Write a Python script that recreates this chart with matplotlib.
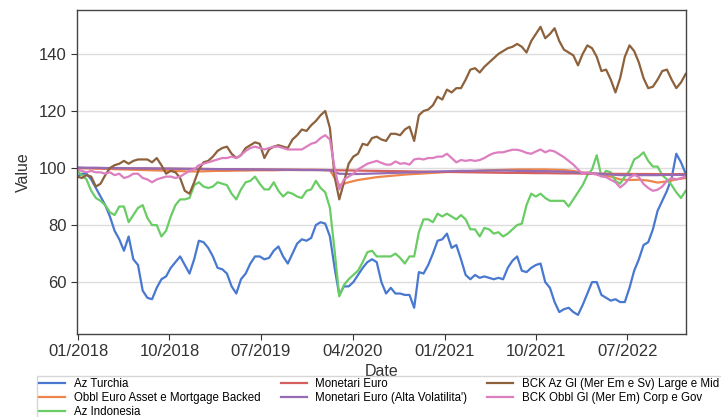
import matplotlib
matplotlib.use('Agg')
import matplotlib.pyplot as plt
import matplotlib.dates as mdates
import pandas as pd

plt.rcParams['font.family'] = ['Liberation Sans', 'DejaVu Sans']

# weekly series sampled every 2 weeks, flat money-market/bond series every 4 weeks
dates_2w = pd.date_range('2017-12-29', periods=131, freq='14D')
dates_4w = pd.date_range('2017-12-29', periods=66, freq='28D')

az_turchia = [
    97, 98, 98, 96, 93, 90, 87, 83, 78, 75, 71, 76, 68, 66, 57, 54.5, 54, 58, 61, 62,
    65, 67, 69, 66, 63, 68, 74.5, 74, 72, 69, 65, 64.5, 63, 58.5, 56, 61, 63, 66.5, 69, 69,
    68, 68.5, 71, 72.5, 69, 66.5, 70, 73.5, 75, 74.5, 75.5, 80, 81, 80.5, 76, 65, 55.5, 58.5, 58.5, 60,
    62.5, 65, 67, 68, 67, 60, 56, 58, 56, 56, 55.5, 55.5, 51, 63.5, 63, 66, 70, 74.5, 75, 77,
    72, 73, 68, 62.5, 61, 62.5, 61.5, 62, 61.5, 61, 61.5, 61, 65, 67.5, 69, 64, 63.5, 65, 66, 66.5,
    60, 58, 53, 49.5, 50.5, 51, 49.5, 48.5, 52, 56, 60, 60, 55.5, 54.5, 53.5, 54, 53, 53, 58, 64,
    68, 73, 74, 78.5, 85, 88.5, 92, 96.5, 105, 102, 98]

az_indonesia = [
    99, 97.5, 96, 92, 89.5, 88.5, 87, 84.5, 83.5, 86.5, 86.5, 81, 83.5, 86, 87, 82.5, 80, 80, 76, 78,
    83, 87, 89, 89, 89.5, 94, 95, 93.5, 93, 93.5, 95, 94.5, 94, 91, 89, 92.5, 95, 95.5, 97, 94.5,
    92.5, 92.5, 95, 92, 90, 91.5, 91, 90, 89.5, 92, 92.5, 95.5, 93, 91.5, 86, 71, 55, 59, 61, 62.5,
    64, 67, 70.5, 71, 69, 69, 69, 69, 70, 68.5, 66.5, 69, 69, 77.5, 82, 82, 81, 84, 83, 84,
    83, 82, 83.5, 82, 78.5, 78.5, 76, 79, 78.5, 77, 77.5, 76, 77, 78.5, 80, 80.5, 87, 91, 90, 91,
    89.5, 88.5, 88.5, 88.5, 88.5, 86.5, 89, 91.5, 94, 97.5, 99.5, 104.5, 97, 99, 98.5, 95.5, 94.5, 97, 99, 103,
    104, 105.5, 102.5, 100.5, 100.5, 97.5, 96, 94, 91.5, 89.5, 92]

bck_az_gl = [
    97, 96.5, 97.5, 97, 93.5, 94.5, 97.5, 100, 101, 101.5, 102.5, 101.5, 102.5, 103, 103, 103, 102, 103.5, 101, 98,
    99, 98.5, 96.5, 92, 91, 95, 99.5, 102, 102.5, 104, 106, 107, 107.5, 105, 103.5, 104.5, 107, 108, 109, 108.5,
    103.5, 106.5, 107.5, 108, 107.5, 107, 110, 111.5, 113.5, 113, 115, 116.5, 118.5, 120, 114, 97, 89, 95, 101.5, 104,
    105, 108.5, 108, 110.5, 111, 110, 109.5, 112, 112, 111.5, 113.5, 114.5, 109.5, 118.5, 120, 120.5, 122, 125, 124, 127.5,
    126.5, 128, 128, 131, 134.5, 135, 133.5, 135.5, 137, 138.5, 140, 141, 142, 142.5, 143.5, 142.5, 140.5, 144.5, 147, 149.5,
    145.5, 147, 149, 144.5, 141.5, 140.5, 139.5, 136, 140, 143, 142, 139, 134, 134.5, 131, 126.5, 131.5, 139, 143, 141,
    137, 131.5, 128, 128.5, 131, 134, 134.5, 131, 128, 130, 133]

bck_obbl_gl = [
    99.5, 99, 98.5, 99, 98.5, 98.5, 98, 98.5, 97.5, 98, 96.5, 97, 98, 98, 96.5, 96, 95, 96, 96.5, 97,
    97, 96.5, 97, 98, 99, 99.5, 101, 101.5, 102, 102.5, 103, 103.5, 103.5, 104, 103.5, 104.5, 106, 107, 107.5, 107,
    106.5, 107, 107.5, 107.5, 107, 106.5, 106.5, 106.5, 106.5, 107.5, 108.5, 109, 110.5, 111.5, 110, 100, 92.5, 96, 97, 98,
    99.5, 100.5, 101.5, 102, 102.5, 101.8, 101.2, 101.2, 102.3, 101.5, 101.7, 101.2, 103, 103.3, 103, 103.5, 103.5, 104, 104, 105,
    103.5, 102, 102.8, 102.5, 102.8, 102.5, 102.8, 103.5, 104.5, 105.2, 105.5, 105.5, 106, 106.4, 106.4, 106, 105.3, 105, 105.8, 106.5,
    105.5, 106.2, 105.8, 104.8, 103.8, 102.5, 101.2, 99.5, 98, 98.5, 98, 97.7, 97.1, 96.8, 95.9, 95, 93.2, 94.5, 96.5, 97.7,
    96.8, 94.4, 93, 92, 92.4, 93.5, 95.5, 96.5, 96, 96.5, 97]

obbl_euro_abs = [
    100, 99.9, 99.8, 99.7, 99.6, 99.5, 99.4, 99.3, 99.2, 99.1, 99.0, 98.9, 98.8, 98.8, 98.9, 99.0, 99.0, 99.1, 99.1, 99.2,
    99.2, 99.2, 99.3, 99.3, 99.3, 99.3, 99.3, 99.2, 94.0, 95.0, 95.8, 96.3, 96.8, 97.1, 97.4, 97.7, 97.9, 98.1, 98.3, 98.5,
    98.7, 98.8, 98.9, 99.0, 99.2, 99.3, 99.4, 99.5, 99.5, 99.5, 99.5, 99.4, 99.3, 99.0, 98.4, 98.2, 97.5, 97.0, 96.0, 95.8,
    95.9, 95.6, 94.9, 95.3, 96.0, 96.5]

monetari_euro = [
    100.0, 99.98, 99.95, 99.92, 99.9, 99.88, 99.85, 99.82, 99.8, 99.78, 99.75, 99.72, 99.7, 99.68, 99.65, 99.62, 99.6, 99.58, 99.55, 99.52,
    99.5, 99.48, 99.45, 99.42, 99.4, 99.38, 99.35, 99.3, 99.2, 99.15, 99.1, 99.05, 99.0, 98.95, 98.9, 98.85, 98.8, 98.75, 98.7, 98.65,
    98.6, 98.55, 98.5, 98.45, 98.4, 98.35, 98.3, 98.3, 98.25, 98.2, 98.2, 98.15, 98.1, 98.1, 98.05, 98.0, 98.0, 97.95, 97.95, 97.9,
    97.9, 97.9, 97.85, 97.85, 97.85, 97.9]

monetari_euro_av = [
    100.2, 100.1, 100.1, 100.0, 100.0, 99.95, 99.9, 99.9, 99.85, 99.8, 99.8, 99.75, 99.7, 99.7, 99.65, 99.6, 99.6, 99.55, 99.5, 99.5,
    99.45, 99.4, 99.4, 99.35, 99.3, 99.3, 99.25, 99.2, 98.0, 97.9, 97.9, 98.0, 98.1, 98.2, 98.3, 98.4, 98.5, 98.6, 98.7, 98.8,
    98.9, 99.0, 99.0, 99.1, 99.1, 99.1, 99.1, 99.0, 99.0, 98.9, 98.9, 98.8, 98.7, 98.5, 98.3, 98.1, 97.9, 97.7, 97.5, 97.5,
    97.5, 97.5, 97.5, 97.6, 97.6, 97.6]

fig = plt.figure(figsize=(7.21, 4.17), dpi=100)
ax = fig.add_axes([0.107, 0.199, 0.844, 0.777])

lw = 1.6
ax.plot(dates_2w, az_turchia, color='#4878d0', lw=lw, label='Az Turchia')
ax.plot(dates_4w, obbl_euro_abs, color='#ee854a', lw=lw, label='Obbl Euro Asset e Mortgage Backed')
ax.plot(dates_2w, az_indonesia, color='#6acc64', lw=lw, label='Az Indonesia')
ax.plot(dates_4w, monetari_euro, color='#d65f5f', lw=lw, label='Monetari Euro')
ax.plot(dates_4w, monetari_euro_av, color='#956cb4', lw=lw, label="Monetari Euro (Alta Volatilita')")
ax.plot(dates_2w, bck_az_gl, color='#8c613c', lw=lw, label='BCK Az Gl (Mer Em e Sv) Large e Mid')
ax.plot(dates_2w, bck_obbl_gl, color='#dc7ec0', lw=lw, label='BCK Obbl Gl (Mer Em) Corp e Gov')

ax.set_xlim(dates_2w[0], dates_2w[-1])
ax.set_ylim(41.8, 155.4)
ax.set_yticks([60, 80, 100, 120, 140])
ticks = pd.to_datetime(['2018-01-01', '2018-10-01', '2019-07-01', '2020-04-01',
                        '2021-01-01', '2021-10-01', '2022-07-01'])
ax.set_xticks(ticks)
ax.xaxis.set_major_formatter(mdates.DateFormatter('%m/%Y'))

ax.grid(axis='y', color='#dddddd', lw=1)
ax.set_axisbelow(True)
for s in ax.spines.values():
    s.set_color('#444444')
    s.set_linewidth(1)
ax.tick_params(labelsize=12, colors='#333333', length=4)

ax.set_xlabel('Date', fontsize=11.5, color='#333333', labelpad=3)
ax.set_ylabel('Value', fontsize=11.5, color='#333333', labelpad=6)
ax.set_title('last 260 weeks', fontsize=12, color='#aaaaaa', pad=7)

fig.legend(loc='upper left', bbox_to_anchor=(0.0513, 0.0985), ncol=3, fontsize=8.3,
           frameon=True, edgecolor='#cccccc', fancybox=False, borderaxespad=0,
           handlelength=2.25, handletextpad=0.75, columnspacing=1.75,
           borderpad=0.2, labelspacing=0.15)

fig.savefig('out.png', dpi=100)
